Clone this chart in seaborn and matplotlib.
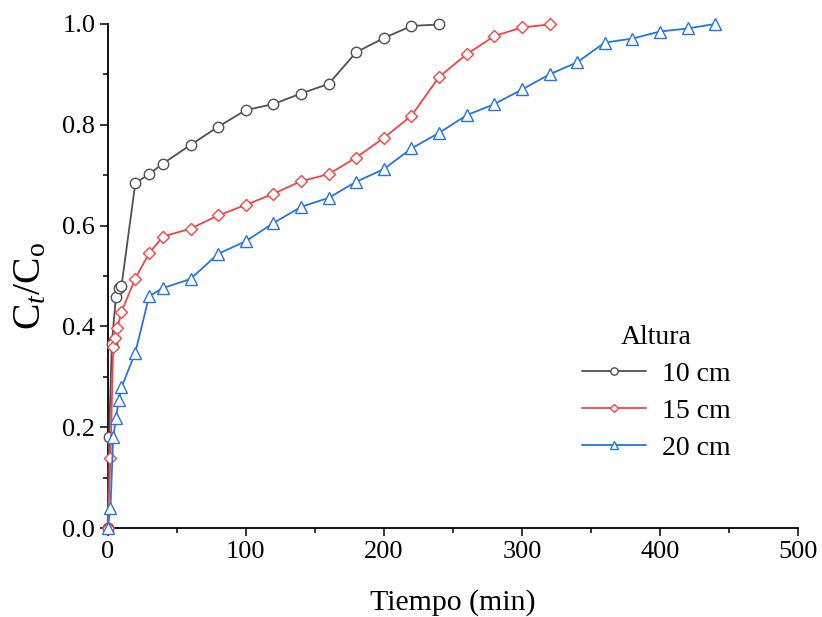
import matplotlib
matplotlib.use("Agg")
import matplotlib.pyplot as plt
import seaborn as sns
import numpy as np

# ---- data ----
t10 = [0, 1, 3, 6, 8, 10, 20, 30, 40, 60, 80, 100, 120, 140, 160, 180, 200, 220, 240]
c10 = [0.0, 0.18, 0.366, 0.459, 0.476, 0.48, 0.684, 0.702, 0.723, 0.76, 0.796, 0.829,
       0.841, 0.862, 0.881, 0.944, 0.972, 0.996, 0.999]

t15 = [0, 2, 4, 5, 7, 10, 20, 30, 40, 60, 80, 100, 120, 140, 160, 180, 200, 220, 240,
       260, 280, 300, 320]
c15 = [0.0, 0.138, 0.36, 0.376, 0.397, 0.429, 0.495, 0.545, 0.578, 0.594, 0.62, 0.641,
       0.663, 0.688, 0.702, 0.735, 0.774, 0.818, 0.895, 0.94, 0.976, 0.993, 0.999]

t20 = [0, 2, 4, 6, 8, 10, 20, 30, 40, 60, 80, 100, 120, 140, 160, 180, 200, 220, 240,
       260, 280, 300, 320, 340, 360, 380, 400, 420, 440]
c20 = [0.0, 0.039, 0.18, 0.219, 0.253, 0.279, 0.348, 0.46, 0.476, 0.494, 0.544, 0.569,
       0.605, 0.637, 0.655, 0.687, 0.712, 0.753, 0.784, 0.819, 0.841, 0.870, 0.90, 0.924,
       0.963, 0.971, 0.985, 0.991, 1.0]

labels = ["10 cm", "15 cm", "20 cm"]
colors = ["#505050", "#F24444", "#2475E3"]
markers = ["o", "D", "^"]
msizes = [7.5, 6.5, 8]

sns.set_style("ticks")
plt.rcParams["font.family"] = ["Liberation Serif", "DejaVu Serif"]
plt.rcParams["mathtext.fontset"] = "custom"
plt.rcParams["mathtext.rm"] = "Liberation Serif"
plt.rcParams["mathtext.it"] = "Liberation Serif:italic"
plt.rcParams["text.color"] = "black"
plt.rcParams["axes.labelcolor"] = "black"
plt.rcParams["xtick.color"] = "black"
plt.rcParams["ytick.color"] = "black"

fig = plt.figure(figsize=(8.22, 6.17), dpi=100)
ax = fig.add_axes([0.131, 0.1442, 0.840, 0.817])

for t, c, lab, col, mk, ms in zip([t10, t15, t20], [c10, c15, c20], labels, colors, markers, msizes):
    sns.lineplot(x=t, y=c, ax=ax, color=col, marker=mk, markersize=ms,
                 markerfacecolor="white", markeredgecolor=col, markeredgewidth=1.0,
                 linewidth=1.3, label=lab, sort=False, clip_on=False, zorder=3)

ax.set_xlim(0, 500)
ax.set_ylim(0, 1.0)
ax.set_xticks([0, 100, 200, 300, 400, 500])
ax.set_xticks([50, 150, 250, 350, 450], minor=True)
ax.set_yticks([0, 0.2, 0.4, 0.6, 0.8, 1.0])
ax.set_yticks([0.1, 0.3, 0.5, 0.7, 0.9], minor=True)
ax.set_yticklabels(["0.0", "0.2", "0.4", "0.6", "0.8", "1.0"])
ax.tick_params(which="major", direction="out", length=5.5, width=1.1, labelsize=19,
               colors="black", labelcolor="black")
ax.tick_params(which="minor", direction="out", length=3.5, width=1.1, colors="black")
for s in ["top", "right"]:
    ax.spines[s].set_visible(False)
for s in ["left", "bottom"]:
    ax.spines[s].set_linewidth(1.3)
    ax.spines[s].set_color("black")

ax.set_xlabel("Tiempo (min)", fontsize=21.5, labelpad=19, color="black")
ax.set_ylabel(r"C$_{\mathit{t}}$/C$_{\mathrm{o}}$", fontsize=28.5, color="black")
ax.yaxis.set_label_coords(-0.084, 0.48)

leg = ax.legend(title="Altura", loc="upper left", bbox_to_anchor=(0.695, 0.492),
                bbox_transform=fig.transFigure, frameon=False, fontsize=20,
                title_fontsize=20, handlelength=2.3, handletextpad=0.55,
                labelspacing=0.42, markerscale=0.7, borderaxespad=0)
for txt in leg.get_texts():
    txt.set_color("black")
leg.get_title().set_color("black")

fig.savefig("out.png", dpi=100)
